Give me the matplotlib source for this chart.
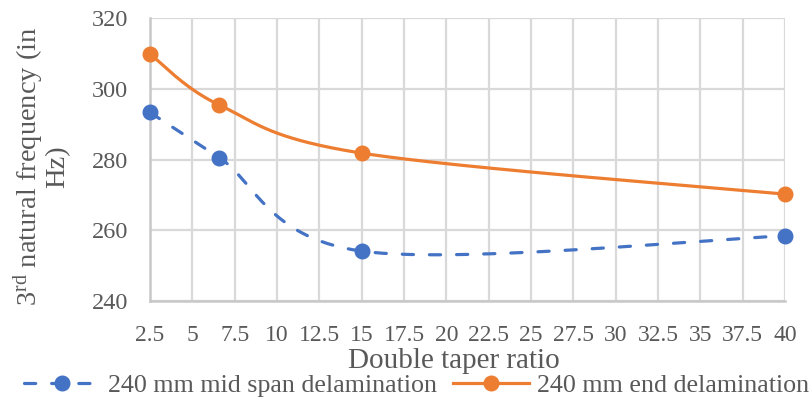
import numpy as np
import matplotlib
matplotlib.use("Agg")
import matplotlib.pyplot as plt

plt.rcParams['font.family'] = ['Liberation Serif', 'DejaVu Serif']
plt.rcParams['mathtext.fontset'] = 'custom'
plt.rcParams['mathtext.rm'] = 'Liberation Serif'
plt.rcParams['mathtext.it'] = 'Liberation Serif:italic'

# Data
taper_ratio = [2.5, 6.6, 15, 40]
mid_span = [293.3, 280.5, 254.1, 258.4]
end_delam = [309.8, 295.4, 281.8, 270.2]
x_ticks = [2.5, 5, 7.5, 10, 12.5, 15, 17.5, 20, 22.5, 25, 27.5, 30, 32.5, 35, 37.5, 40]
x_tick_labels = ["2.5", "5", "7.5", "10", "12.5", "15", "17.5", "20", "22.5", "25",
                 "27.5", "30", "32.5", "35", "37.5", "40"]
y_ticks = [240, 260, 280, 300, 320]

BLUE = "#4472C4"
ORANGE = "#ED7D31"
GRID = "#D9D9D9"
TEXT = "#595959"
DASH = (0, (3.5, 5))


def smooth(xs, ys, n=60):
    """Catmull-Rom style Bezier smoothing through the given points."""
    P = np.column_stack([xs, ys]).astype(float)
    ext = np.vstack([P[0], P, P[-1]])
    out = []
    t = np.linspace(0, 1, n)[:, None]
    for i in range(len(P) - 1):
        p0, p1, p2, p3 = ext[i], ext[i + 1], ext[i + 2], ext[i + 3]
        c1 = p1 + (p2 - p0) / 6.0
        c2 = p2 - (p3 - p1) / 6.0
        seg = ((1 - t) ** 3) * p1 + 3 * ((1 - t) ** 2) * t * c1 + 3 * (1 - t) * t ** 2 * c2 + t ** 3 * p2
        out.append(seg if i == 0 else seg[1:])
    s = np.vstack(out)
    return s[:, 0], s[:, 1]


fig = plt.figure(figsize=(8.12, 4.0), dpi=100)
ax = fig.add_axes([150 / 812, 1 - 301 / 400, 635 / 812, 283 / 400])

ax.set_xlim(2.5, 40)
ax.set_ylim(240, 320)

bx, by = smooth(taper_ratio, mid_span)
ox, oy = smooth(taper_ratio, end_delam)

ax.plot(bx, by, color=BLUE, lw=2.3, ls=DASH, dash_capstyle='round', zorder=3, clip_on=False)
ax.plot(taper_ratio, mid_span, 'o', color=BLUE, ms=10.5, zorder=4, clip_on=False)
ax.plot(ox, oy, color=ORANGE, lw=2.3, zorder=3, clip_on=False)
ax.plot(taper_ratio, end_delam, 'o', color=ORANGE, ms=10.5, zorder=4, clip_on=False)

# Legend proxies
h1, = ax.plot([], [], color=BLUE, lw=2.3, ls=DASH, dash_capstyle='round',
              marker='o', ms=10.5, label="240 mm mid span delamination")
h2, = ax.plot([], [], color=ORANGE, lw=2.3, marker='o', ms=10.5,
              label="240 mm end delamination")

ax.set_xticks(x_ticks)
ax.set_xticklabels(x_tick_labels)
ax.set_yticks(y_ticks)
ax.grid(True, color=GRID, lw=1.6)
ax.set_axisbelow(True)
for side in ['top', 'right']:
    ax.spines[side].set_visible(False)
for side in ['left', 'bottom']:
    ax.spines[side].set_color("#C8C8C8")
    ax.spines[side].set_linewidth(1.8)
ax.tick_params(axis='both', length=0, labelcolor=TEXT)
ax.tick_params(axis='x', pad=17, labelsize=17)
ax.tick_params(axis='y', pad=16, labelsize=17.5)

ax.set_xlabel("Double taper ratio", fontsize=21, color=TEXT)
ax.xaxis.set_label_coords(0.478, -0.165)
ax.set_ylabel("3$^{\\mathrm{rd}}$ natural frequency (in\nHz)", fontsize=20.5, color=TEXT,
              linespacing=1.0)
ax.yaxis.set_label_coords(-0.126, 0.475)

fig.legend(handles=[h1, h2], loc='center', bbox_to_anchor=(0.513, 1 - 385 / 400), ncol=2,
           frameon=False, fontsize=18.7, handlelength=2.9, columnspacing=0.65,
           handletextpad=0.3, labelcolor=TEXT, borderaxespad=0, borderpad=0)

fig.savefig("out.png", dpi=100)
